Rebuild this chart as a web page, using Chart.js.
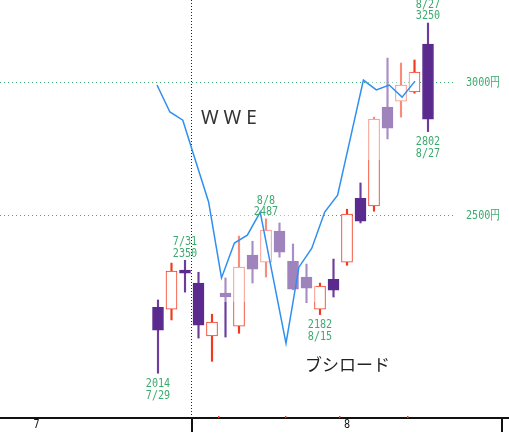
<!DOCTYPE html>
<html>
<head>
<meta charset="utf-8">
<script src="https://cdn.jsdelivr.net/npm/chart.js@4.4.0/dist/chart.umd.min.js"></script>
<style>
  body { margin: 0; background: #fff; }
  canvas { display: block; }
</style>
</head>
<body>
<canvas id="chart" width="509" height="437"></canvas>
<script>
// ブシロード daily candles (JP trading days)
const dates  = ['7/29','7/30','7/31','8/1','8/2','8/5','8/6','8/7','8/8','8/9','8/13','8/14','8/15','8/16','8/19','8/20','8/21','8/22','8/23','8/26','8/27'];
const opens  = [2204,2198,2319,2278,2119,2247,2148,2367,2344,2446,2347,2297,2198,2290,2344,2558,2531,2897,2921,2958,3158];
const highs  = [2226,2341,2350,2312,2183,2294,2429,2412,2487,2473,2403,2338,2278,2354,2520,2612,2858,3098,3077,3090,3250];
const lows   = [2014,2166,2250,2113,2047,2116,2127,2278,2297,2360,2257,2219,2182,2235,2334,2473,2513,2774,2858,2953,2802];
const closes = [2136,2316,2309,2151,2160,2235,2328,2322,2449,2376,2259,2262,2269,2256,2503,2479,2850,2815,2986,3039,2850];

// WWE comparison line (US trading days), drawn on the same price scale
const wweDates  = ['7/29','7/30','7/31','8/1','8/2','8/5','8/6','8/7','8/8','8/9','8/12','8/13','8/14','8/15','8/16','8/19','8/20','8/21','8/22','8/23','8/26'];
const wweValues = [2986,2878,2846,2691,2545,2294,2406,2432,2510,2295,2098,2328,2389,2510,2569,2779,3006,2966,2986,2937,3002];

// reference lines and marked highs / lows
const priceLines = [2500, 3000];
const highMarks = ['7/31', '8/8', '8/27'];
const lowMarks  = ['7/29', '8/15', '8/27'];

// bottom axis (positions in candle index units)
const monthTicks   = [2.5, 25.5];
const weekTicks    = [4.5, 9.5, 13.5, 18.5];
const monthNames   = ['7', '8'];
const monthCenters = [-9, 14];

const RED = '#f2391f';
const PURPLE = '#5b2a8e';
const GREEN = '#3caa6e';

const isUp = i => closes[i] >= opens[i];

// narrow gothic-looking text: mono font squeezed horizontally
function narrowText(ctx, text, x, y, align) {
  ctx.save();
  ctx.font = '13px "DejaVu Sans Mono", monospace';
  ctx.textBaseline = 'middle';
  ctx.textAlign = align;
  ctx.translate(x, y);
  ctx.scale(0.78, 1);
  ctx.fillText(text, 0, 0);
  ctx.restore();
}

const decor = {
  id: 'decor',
  beforeDatasetsDraw(chart) {
    const { ctx, scales: { x, y } } = chart;
    ctx.save();
    ctx.lineWidth = 1;
    // green dotted price lines
    ctx.strokeStyle = GREEN;
    ctx.setLineDash([1, 3]);
    priceLines.forEach(v => {
      const py = Math.round(y.getPixelForValue(v)) + 0.5;
      ctx.beginPath(); ctx.moveTo(0, py); ctx.lineTo(455, py); ctx.stroke();
    });
    // month boundary
    ctx.strokeStyle = '#222';
    ctx.setLineDash([1, 2]);
    const mx = Math.round(x.getPixelForValue(monthTicks[0])) - 0.5;
    ctx.beginPath(); ctx.moveTo(mx, 0); ctx.lineTo(mx, chart.chartArea.bottom); ctx.stroke();
    ctx.restore();
  },
  beforeDatasetDraw(chart, args) {
    if (args.index !== 2) return;
    // faint watermark washing over the middle candles
    const ctx = chart.ctx;
    ctx.save();
    ctx.fillStyle = 'rgba(255,255,255,0.42)';
    ctx.fillRect(219, 195, 97, 107);
    ctx.fillRect(368, 50, 42, 110);
    ctx.restore();
  },
  afterDraw(chart) {
    const { ctx, scales: { x, y }, chartArea } = chart;
    ctx.save();
    // axis
    const ay = chartArea.bottom;
    ctx.fillStyle = '#111';
    ctx.fillRect(0, ay, 509, 2);
    monthTicks.forEach(t => {
      ctx.fillRect(Math.round(x.getPixelForValue(t)) - 1, ay, 2, 15);
    });
    ctx.fillStyle = RED;
    weekTicks.forEach(t => {
      ctx.fillRect(Math.round(x.getPixelForValue(t)) - 1, ay - 1, 1.5, 2);
    });
    ctx.fillStyle = '#111';
    monthNames.forEach((m, k) => narrowText(ctx, m, x.getPixelForValue(monthCenters[k]), ay + 8, 'center'));

    // price line labels
    ctx.fillStyle = GREEN;
    priceLines.forEach(v => narrowText(ctx, v + '円', 466, y.getPixelForValue(v) + 1, 'left'));

    // high / low marks
    highMarks.forEach(d => {
      const i = dates.indexOf(d);
      const px = x.getPixelForValue(i), py = y.getPixelForValue(highs[i]);
      narrowText(ctx, String(highs[i]), px, py - 7, 'center');
      narrowText(ctx, d, px, py - 18.5, 'center');
    });
    lowMarks.forEach(d => {
      const i = dates.indexOf(d);
      const px = x.getPixelForValue(i), py = y.getPixelForValue(lows[i]);
      narrowText(ctx, String(lows[i]), px, py + 10.5, 'center');
      narrowText(ctx, d, px, py + 22, 'center');
    });

    // series names
    ctx.textBaseline = 'middle';
    ctx.fillStyle = '#333';
    ctx.textAlign = 'left';
    ctx.font = '19px "Noto Sans", sans-serif';
    ctx.fillText('W W E', 201, 119);
    ctx.fillStyle = '#222';
    ctx.font = '17px "Noto Sans CJK JP", sans-serif';
    ctx.fillText('ブシロード', 305, 365);
    ctx.restore();
  }
};

new Chart(document.getElementById('chart'), {
  type: 'bar',
  data: {
    datasets: [
      {
        label: 'wick',
        data: dates.map((d, i) => ({ x: i, y: [lows[i], highs[i]] })),
        backgroundColor: c => isUp(c.dataIndex) ? RED : '#6c3d9c',
        borderWidth: 0,
        barThickness: 1.5,
        grouped: false,
        order: 3
      },
      {
        label: 'ブシロード',
        data: dates.map((d, i) => ({ x: i, y: [opens[i], closes[i]] })),
        backgroundColor: c => isUp(c.dataIndex) ? '#ffffff' : PURPLE,
        borderColor: c => isUp(c.dataIndex) ? RED : PURPLE,
        borderWidth: 1,
        borderSkipped: false,
        barThickness: 11,
        grouped: false,
        order: 2
      },
      {
        type: 'line',
        label: 'WWE',
        data: wweValues.map((v, j) => ({ x: j, y: v })),
        xAxisID: 'x2',
        borderColor: '#2f8ff0',
        borderWidth: 1.5,
        pointRadius: 0,
        tension: 0,
        order: 1
      }
    ]
  },
  options: {
    responsive: false,
    animation: false,
    layout: { padding: { left: 0, right: 0, top: 0, bottom: 20 } },
    plugins: { legend: { display: false }, tooltip: { enabled: false } },
    scales: {
      x:  { type: 'linear', display: false, offset: false, bounds: 'data', min: -11.704, max: 26.0 },
      x2: { type: 'linear', display: false, offset: false, bounds: 'data', min: -12.171, max: 27.287 },
      y:  { type: 'logarithmic', display: false, bounds: 'data', min: 1897, max: 3354 }
    }
  },
  plugins: [decor]
});
</script>
</body>
</html>
